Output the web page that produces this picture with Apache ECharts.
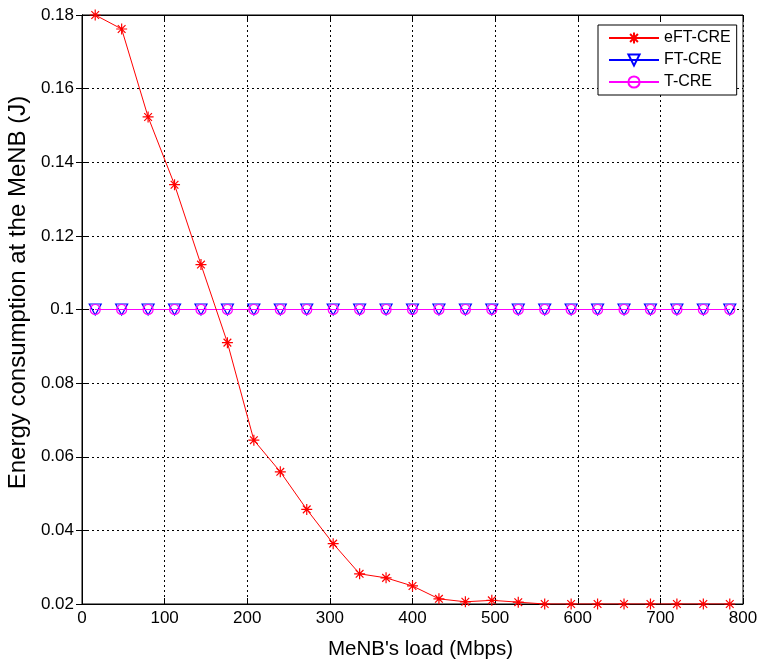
<!DOCTYPE html>
<html>
<head>
<meta charset="utf-8">
<script src="https://cdn.jsdelivr.net/npm/echarts@6/dist/echarts.min.js"></script>
<style>
  html, body { margin: 0; padding: 0; background: #fff; }
  #chart { width: 761px; height: 664px; }
</style>
</head>
<body>
<div id="chart"></div>
<script>
// MeNB load (Mbps) at each simulated point
const loads = [16, 48, 80, 112, 144, 176, 208, 240, 272, 304, 336, 368, 400,
               432, 464, 496, 528, 560, 592, 624, 656, 688, 720, 752, 784];

// Energy consumption at the MeNB (J)
const eftCre = [0.1800, 0.1762, 0.1523, 0.1339, 0.1122, 0.0910, 0.0645, 0.0559,
                0.0457, 0.0364, 0.0282, 0.0271, 0.0249, 0.0214, 0.0206, 0.0210,
                0.0205, 0.0200, 0.0200, 0.0200, 0.0200, 0.0200, 0.0200, 0.0200, 0.0200];
const ftCre = [0.1, 0.1, 0.1, 0.1, 0.1, 0.1, 0.1, 0.1, 0.1, 0.1, 0.1, 0.1, 0.1,
               0.1, 0.1, 0.1, 0.1, 0.1, 0.1, 0.1, 0.1, 0.1, 0.1, 0.1, 0.1];
const tCre = [0.1, 0.1, 0.1, 0.1, 0.1, 0.1, 0.1, 0.1, 0.1, 0.1, 0.1, 0.1, 0.1,
              0.1, 0.1, 0.1, 0.1, 0.1, 0.1, 0.1, 0.1, 0.1, 0.1, 0.1, 0.1];

const seriesNames = ['eFT-CRE', 'FT-CRE', 'T-CRE'];
const xAxisName = "MeNB's load (Mbps)";
const yAxisName = 'Energy consumption at the MeNB (J)';

const pair = (xs, ys) => xs.map((x, i) => [x, ys[i]]);

// asterisk marker: a plus overlaid with a cross
const starPath = 'path://M50,0L50,100M0,50L100,50M15,15L85,85M15,85L85,15';

const FONT = 'Liberation Sans, Arial, Helvetica, sans-serif';
const gridLine = { show: true, lineStyle: { color: '#000', type: [2, 3], width: 1 } };

const chart = echarts.init(document.getElementById('chart'));
chart.setOption({
  backgroundColor: '#fff',
  animation: false,
  grid: { left: 82, right: 18, top: 15, bottom: 60, show: true,
          outerBoundsMode: 'none', containLabel: false,
          borderColor: '#000', borderWidth: 1, backgroundColor: '#fff' },
  legend: {
    orient: 'vertical', left: 598, top: 25,
    backgroundColor: '#fff', borderColor: '#000', borderWidth: 1,
    padding: [5, 6, 5, 10], itemGap: 6, itemWidth: 50, itemHeight: 14,
    textStyle: { fontFamily: FONT, fontSize: 16, color: '#000' },
    data: seriesNames
  },
  xAxis: [{
    type: 'value', min: 0, max: 800, interval: 100,
    name: xAxisName, nameLocation: 'middle', nameGap: 35,
    nameTextStyle: { fontFamily: FONT, fontSize: 20.5, color: '#000', padding: [0, 0, 0, 16] },
    axisLine: { show: true, lineStyle: { color: '#000' } },
    axisTick: { show: true, inside: true, length: 6, lineStyle: { color: '#000' } },
    axisLabel: { fontFamily: FONT, fontSize: 17, color: '#000', margin: 6 },
    splitLine: gridLine
  }, {
    type: 'value', min: 0, max: 800, interval: 100, position: 'top',
    axisLine: { show: true, lineStyle: { color: '#000' } },
    axisTick: { show: true, inside: true, length: 6, lineStyle: { color: '#000' } },
    axisLabel: { show: false }, splitLine: { show: false }
  }],
  yAxis: [{
    type: 'value', min: 0.02, max: 0.18, interval: 0.02,
    name: yAxisName, nameLocation: 'middle', nameGap: 51,
    nameTextStyle: { fontFamily: FONT, fontSize: 24, color: '#000', padding: [0, 0, 0, 34] },
    axisLine: { show: true, lineStyle: { color: '#000' } },
    axisTick: { show: true, inside: true, length: 6, lineStyle: { color: '#000' } },
    axisLabel: { fontFamily: FONT, fontSize: 17, color: '#000', margin: 8,
                 formatter: v => String(parseFloat(v.toFixed(2))) },
    splitLine: gridLine
  }, {
    type: 'value', min: 0.02, max: 0.18, interval: 0.02, position: 'right',
    axisLine: { show: true, lineStyle: { color: '#000' } },
    axisTick: { show: true, inside: true, length: 6, lineStyle: { color: '#000' } },
    axisLabel: { show: false }, splitLine: { show: false }
  }],
  series: [{
    name: seriesNames[0], type: 'line', data: pair(loads, eftCre),
    symbol: starPath, symbolSize: 11, z: 5,
    lineStyle: { color: '#ff0000', width: 1 },
    itemStyle: { color: '#ff0000', borderColor: '#ff0000', borderWidth: 1.2 }
  }, {
    name: seriesNames[1], type: 'line', data: pair(loads, ftCre),
    symbol: 'triangle', symbolRotate: 180, symbolSize: [12, 11], z: 3,
    lineStyle: { color: '#0000ff', width: 1 },
    itemStyle: { color: 'rgba(255,255,255,0)', borderColor: '#0000ff', borderWidth: 1.2 }
  }, {
    name: seriesNames[2], type: 'line', data: pair(loads, tCre),
    symbol: 'circle', symbolSize: 10, z: 4,
    lineStyle: { color: '#ff00ff', width: 1.2 },
    itemStyle: { color: 'rgba(255,255,255,0)', borderColor: '#ff00ff', borderWidth: 1.2 }
  }]
});
</script>
</body>
</html>
